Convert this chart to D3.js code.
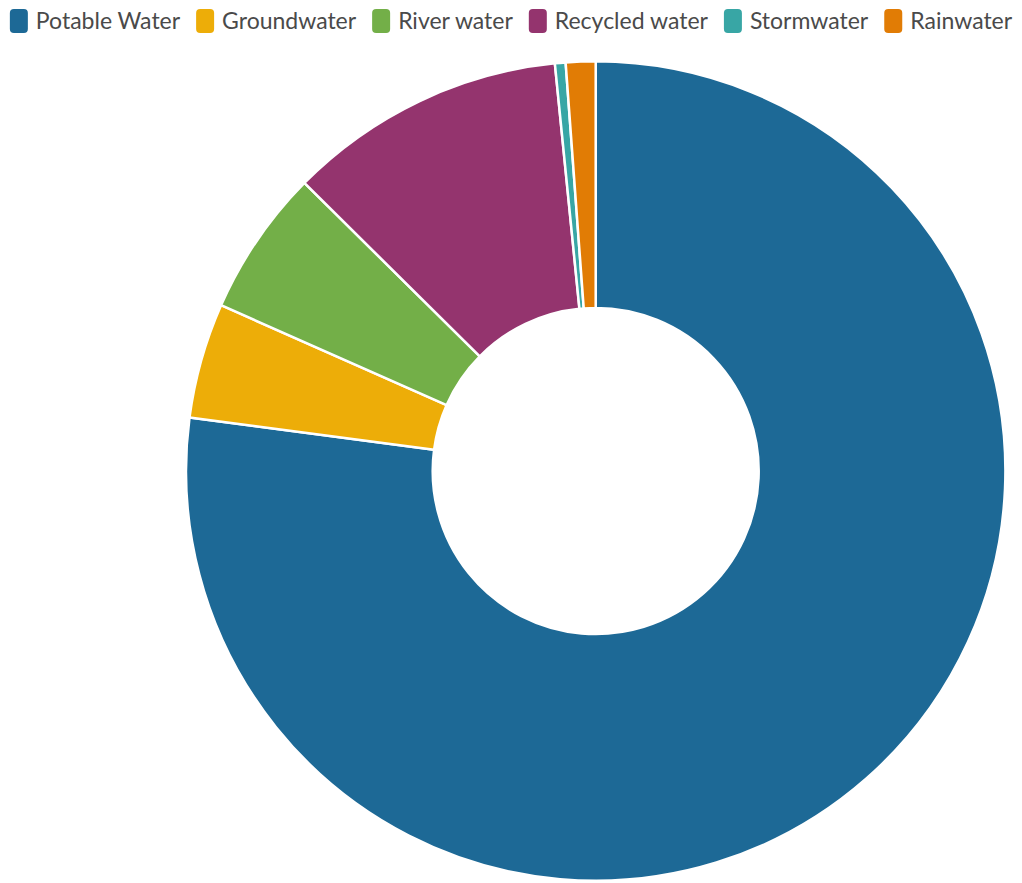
<!DOCTYPE html>
<html>
<head>
<meta charset="utf-8">
<script src="https://cdn.jsdelivr.net/npm/d3@7"></script>
<style>
  html, body { margin: 0; padding: 0; background: #fff; }
  svg { display: block; }
  text { font-family: Lato, "Open Sans", sans-serif; }
</style>
</head>
<body>
<svg id="chart" width="1022" height="883"></svg>
<script>
// Water sources, share of total use (%)
const sources = ["Potable Water", "Groundwater", "River water", "Recycled water", "Stormwater", "Rainwater"];
const shares = [77.09, 4.55, 5.78, 11.0, 0.42, 1.17];
const colors = ["#1D6996", "#EDAD08", "#73AF48", "#94346E", "#38A6A5", "#E17C05"];

const W = 1022, H = 883;
const svg = d3.select("#chart");

const data = sources.map((name, i) => ({ name, value: shares[i], color: colors[i] }));

// Donut
const cx = 595.7, cy = 471, outerR = 409.7, innerR = 163;
const pie = d3.pie().sort(null).value(d => d.value);
const arc = d3.arc().innerRadius(innerR).outerRadius(outerR);

svg.append("g")
  .attr("transform", `translate(${cx},${cy})`)
  .selectAll("path")
  .data(pie(data))
  .join("path")
  .attr("d", arc)
  .attr("fill", d => d.data.color)
  .attr("stroke", "#fff")
  .attr("stroke-width", 2.5)
  .attr("stroke-linejoin", "round");

// Legend row across the top
const legend = svg.append("g").attr("class", "legend");
const markerW = 18, markerH = 24, markerGap = 8, itemGap = 16, fontSize = 23;

const items = legend.selectAll("g.item")
  .data(data)
  .join("g")
  .attr("class", "item");

items.append("rect")
  .attr("width", markerW)
  .attr("height", markerH)
  .attr("rx", 4)
  .attr("ry", 4)
  .attr("y", 9)
  .attr("fill", d => d.color);

items.append("text")
  .attr("x", markerW + markerGap)
  .attr("y", 21)
  .attr("dy", "0.36em")
  .attr("font-size", fontSize)
  .attr("fill", "#4a4a4a")
  .text(d => d.name);

// Flow items left to right, then center the row
let x = 0;
items.each(function () {
  const g = d3.select(this);
  const tw = g.select("text").node().getComputedTextLength();
  g.attr("transform", `translate(${x},0)`);
  x += markerW + markerGap + tw + itemGap;
});
const total = x - itemGap;
legend.attr("transform", `translate(${(W - total) / 2},0)`);
</script>
</body>
</html>
